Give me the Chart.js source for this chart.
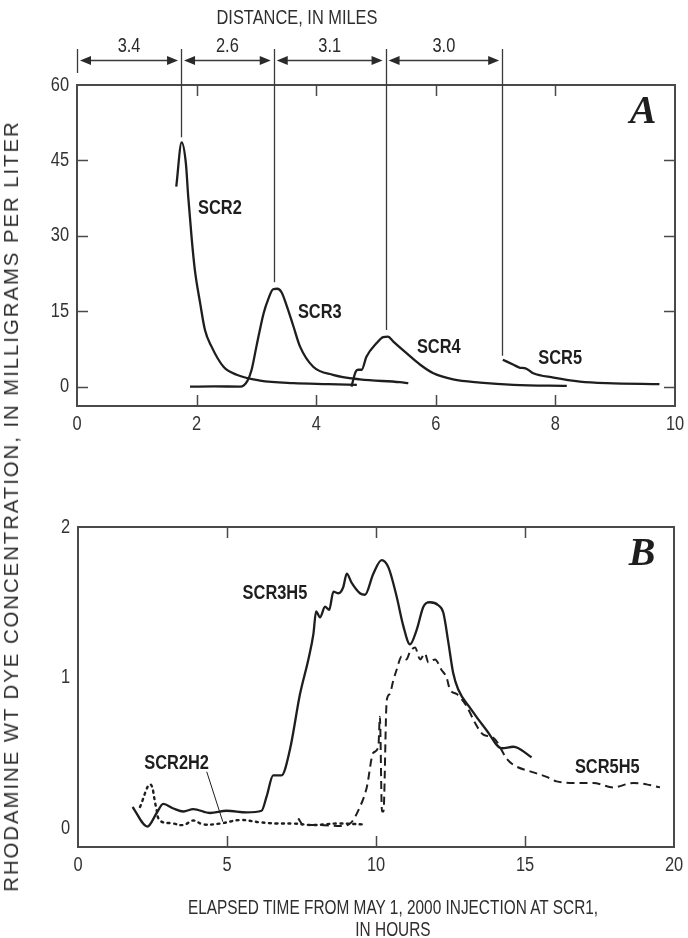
<!DOCTYPE html>
<html>
<head>
<meta charset="utf-8">
<script src="https://cdn.jsdelivr.net/npm/chart.js@4.4.1/dist/chart.umd.min.js"></script>
<style>
  body {
    margin: 0; background: #fff; width: 688px; height: 938px; position: relative; overflow: hidden;
    font-family: "Liberation Sans", Arial, sans-serif; color: #2e2e2e;
  }
  #wrapA { position: absolute; left: 0; top: 0; width: 688px; height: 440px; }
  #wrapB { position: absolute; left: 0; top: 460px; width: 688px; height: 478px; }
  .title { position: absolute; font-size: 20px; white-space: nowrap; }
  #distTitle { left: 297px; top: 6px; transform: translateX(-50%) scaleX(0.82); }
  #xTitle { left: 393px; top: 896px; transform: translateX(-50%) scaleX(0.77); text-align: center; line-height: 22px; }
  #yTitle { left: 11px; top: 506px; font-size: 21px; letter-spacing: 2px; transform: translate(-50%, -50%) rotate(-90deg) scaleX(0.97); }
</style>
</head>
<body>
<div id="wrapA"><canvas id="chartA"></canvas></div>
<div id="wrapB"><canvas id="chartB"></canvas></div>
<div class="title" id="distTitle">DISTANCE, IN MILES</div>
<div class="title" id="xTitle">ELAPSED TIME FROM MAY 1, 2000 INJECTION AT SCR1,<br>IN HOURS</div>
<div class="title" id="yTitle">RHODAMINE WT DYE CONCENTRATION, IN MILLIGRAMS PER LITER</div>

<script>
// axis ticks
const aTicksX = [0, 2, 4, 6, 8, 10];
const aTicksY = [0, 15, 30, 45, 60];
const bTicksX = [0, 5, 10, 15, 20];
const bTicksY = [0, 1, 2];

// panel A: dye at each site, hours vs mg/L
const scr2Hours = [1.66, 1.75, 1.82, 1.86, 1.92, 1.97, 2.06, 2.14, 2.25, 2.45, 2.67, 3.06, 3.62, 4.2, 4.68];
const scr2Conc  = [39.8, 48.6, 44.5, 37.8, 29.2, 23.3, 16.6, 11.3, 8.0, 4.0, 2.4, 1.25, 0.73, 0.55, 0.4];
const scr3Hours = [1.89, 2.3, 2.73, 2.85, 2.92, 3.0, 3.12, 3.2, 3.28, 3.35, 3.42, 3.51, 3.62, 3.73, 3.95, 4.28, 4.73, 5.4, 5.54];
const scr3Conc  = [0.05, 0.1, 0.05, 1.2, 3.4, 8, 14.6, 17.5, 19.4, 19.5, 18.8, 16, 12, 8, 4, 2.4, 1.5, 0.93, 0.73];
const scr4Hours = [4.59, 4.66, 4.7, 4.76, 4.84, 5.01, 5.12, 5.2, 5.29, 5.51, 5.74, 5.96, 6.29, 6.74, 7.3, 8.19];
const scr4Conc  = [0.06, 3.0, 3.4, 3.4, 6, 8.7, 9.9, 10.0, 9, 6.7, 4.4, 2.7, 1.5, 0.86, 0.4, 0.2];
const scr5Hours = [7.12, 7.3, 7.41, 7.5, 7.63, 7.97, 8.41, 8.86, 9.74];
const scr5Conc  = [5.4, 4.4, 3.8, 3.7, 2.7, 1.85, 1.06, 0.73, 0.53];

// travel distance between sites, measured at the peaks
const peakHours = [0, 1.74, 3.29, 5.16, 7.11];
const peakTopConc = [null, 49.6, 20.8, 11.3, 6.2];
const reachMiles = ['3.4', '2.6', '3.1', '3.0'];

// panel B: dye at the sampling points
const scr3h5Hours = [1.83, 2.33, 2.64, 2.86, 3.2, 3.54, 3.87, 4.43, 4.99, 5.66, 6.16, 6.33, 6.55, 6.83, 7.11, 7.45, 7.73, 7.9, 7.99, 8.12, 8.29, 8.43, 8.57, 8.74, 8.9, 9.02, 9.18, 9.46, 9.63, 9.91, 10.19, 10.42, 10.69, 10.92, 11.14, 11.37, 11.59, 11.81, 12.09, 12.26, 12.43, 12.59, 12.76, 13.15, 13.71, 14.22, 14.61, 14.78, 15.22];
const scr3h5Conc  = [0.14, 0.01, 0.10, 0.16, 0.13, 0.11, 0.126, 0.10, 0.115, 0.104, 0.115, 0.21, 0.35, 0.35, 0.52, 0.89, 1.12, 1.29, 1.44, 1.40, 1.47, 1.45, 1.57, 1.56, 1.60, 1.69, 1.63, 1.56, 1.55, 1.69, 1.78, 1.73, 1.54, 1.34, 1.22, 1.32, 1.47, 1.50, 1.48, 1.43, 1.23, 1.03, 0.92, 0.80, 0.65, 0.53, 0.54, 0.53, 0.47];
const scr5h5Hours = [7.39, 7.56, 8.12, 8.79, 9.13, 9.46, 9.69, 9.91, 10.08, 10.13, 10.2, 10.25, 10.36, 10.46, 10.58, 10.69, 10.86, 11.02, 11.14, 11.31, 11.48, 11.64, 11.76, 11.98, 12.2, 12.37, 12.48, 12.71, 13.04, 13.32, 13.6, 13.94, 14.39, 14.61, 15.28, 15.73, 16.06, 16.73, 17.29, 17.96, 18.64, 19.08, 19.53];
const scr5h5Conc  = [0.064, 0.02, 0.02, 0.013, 0.03, 0.14, 0.27, 0.50, 0.54, 0.74, 0.11, 0.11, 0.85, 0.89, 0.98, 1.05, 1.14, 1.12, 1.17, 1.20, 1.12, 1.16, 1.10, 1.12, 1.05, 1.0, 0.92, 0.89, 0.81, 0.70, 0.62, 0.60, 0.46, 0.42, 0.37, 0.34, 0.31, 0.30, 0.30, 0.27, 0.30, 0.29, 0.27];
const scr2h2Hours = [2.08, 2.42, 2.62, 2.75, 3.2, 3.54, 3.87, 4.2, 4.77, 5.44, 6.11, 6.67, 7.22, 7.9, 8.68, 9.57];
const scr2h2Conc  = [0.14, 0.29, 0.14, 0.05, 0.03, 0.02, 0.05, 0.024, 0.03, 0.053, 0.038, 0.03, 0.03, 0.02, 0.03, 0.024];
const leaderHours = [4.32, 4.86];
const leaderConc  = [0.374, 0.042];

const INK = '#1e1e1e';
const SANS = '"Liberation Sans", Arial, sans-serif';
const NARROW = 0.82;

const pts = (xs, ys) => xs.map((v, i) => ({ x: v, y: ys[i] }));

function curve(xs, ys, extra) {
  return Object.assign({
    data: pts(xs, ys),
    showLine: true,
    borderColor: INK,
    borderWidth: 2.3,
    pointRadius: 0,
    cubicInterpolationMode: 'monotone',
    fill: false
  }, extra || {});
}

// condensed text: squeeze the regular face horizontally
function narrowText(ctx, text, x, y, font, align) {
  ctx.save();
  ctx.translate(x, y);
  ctx.scale(NARROW, 1);
  ctx.font = font;
  ctx.textAlign = align;
  ctx.textBaseline = 'middle';
  ctx.fillText(text, 0, 0);
  ctx.restore();
}

// box around the plot, inward tick marks and tick labels
const framePlugin = {
  id: 'frame',
  afterDatasetsDraw(chart, args, opts) {
    const { ctx, chartArea: a, scales: { x, y } } = chart;
    ctx.save();
    ctx.strokeStyle = '#4a4a4a';
    ctx.lineWidth = 2;
    ctx.strokeRect(a.left, a.top, a.right - a.left, a.bottom - a.top);
    ctx.lineWidth = 1.5;
    ctx.beginPath();
    x.ticks.forEach(t => {
      if (t.value <= x.min || t.value >= x.max) return;
      const px = Math.round(x.getPixelForValue(t.value)) + 0.5;
      ctx.moveTo(px, a.bottom); ctx.lineTo(px, a.bottom - 11);
      ctx.moveTo(px, a.top); ctx.lineTo(px, a.top + 11);
    });
    if (opts.yTicks) {
      y.ticks.forEach(t => {
        if (t.value >= y.max) return;
        const py = Math.round(y.getPixelForValue(t.value)) + 0.5;
        ctx.moveTo(a.left, py); ctx.lineTo(a.left + 11, py);
        ctx.moveTo(a.right, py); ctx.lineTo(a.right - 11, py);
      });
    }
    ctx.stroke();
    ctx.fillStyle = '#333';
    const f = '20px ' + SANS;
    x.ticks.forEach(t => narrowText(ctx, String(t.value), x.getPixelForValue(t.value), a.bottom + 18, f, 'center'));
    y.ticks.forEach(t => narrowText(ctx, String(t.value), a.left - 8, y.getPixelForValue(t.value), f, 'right'));
    ctx.restore();
  }
};

// curve names and the panel letter
const labelPlugin = {
  id: 'names',
  afterDatasetsDraw(chart, args, opts) {
    const { ctx, chartArea: a, scales: { x, y } } = chart;
    ctx.save();
    ctx.fillStyle = INK;
    (opts.items || []).forEach(it => {
      narrowText(ctx, it.text, x.getPixelForValue(it.x), y.getPixelForValue(it.y), 'bold 20px ' + SANS, 'center');
    });
    ctx.textAlign = 'center';
    ctx.textBaseline = 'middle';
    ctx.font = 'bold italic 40px "Liberation Serif", "DejaVu Serif", serif';
    ctx.fillText(opts.letter, a.right - 32, a.top + 28);
    ctx.restore();
  }
};

// distance scale above panel A
const distancePlugin = {
  id: 'distance',
  afterDatasetsDraw(chart) {
    const { ctx, scales: { x, y } } = chart;
    const arrowY = 60.5;
    ctx.save();
    ctx.strokeStyle = '#3a3a3a';
    ctx.fillStyle = '#2a2a2a';
    ctx.lineWidth = 1.3;
    peakHours.forEach((h, i) => {
      const px = Math.round(x.getPixelForValue(h)) + 0.5;
      const bottom = peakTopConc[i] == null ? 73 : y.getPixelForValue(peakTopConc[i]);
      ctx.beginPath();
      ctx.moveTo(px, 49);
      ctx.lineTo(px, bottom);
      ctx.stroke();
    });
    reachMiles.forEach((m, i) => {
      const x0 = x.getPixelForValue(peakHours[i]) + 3;
      const x1 = x.getPixelForValue(peakHours[i + 1]) - 3;
      ctx.beginPath();
      ctx.moveTo(x0 + 8, arrowY); ctx.lineTo(x1 - 8, arrowY);
      ctx.stroke();
      ctx.beginPath();
      ctx.moveTo(x0, arrowY); ctx.lineTo(x0 + 11, arrowY - 4.5); ctx.lineTo(x0 + 11, arrowY + 4.5); ctx.closePath();
      ctx.moveTo(x1, arrowY); ctx.lineTo(x1 - 11, arrowY - 4.5); ctx.lineTo(x1 - 11, arrowY + 4.5); ctx.closePath();
      ctx.fill();
      narrowText(ctx, m, (x0 + x1) / 2, 46, '20px ' + SANS, 'center');
    });
    ctx.restore();
  }
};

function axes(xTicks, yTicks, xMin, xMax, yMin, yMax, yWidth, xHeight) {
  return {
    x: {
      type: 'linear', min: xMin, max: xMax,
      grid: { display: false, drawTicks: false }, border: { display: false },
      afterBuildTicks: s => { s.ticks = xTicks.map(v => ({ value: v })); },
      afterFit: s => { s.height = xHeight; },
      ticks: { display: false }
    },
    y: {
      type: 'linear', min: yMin, max: yMax,
      grid: { display: false, drawTicks: false }, border: { display: false },
      afterBuildTicks: s => { s.ticks = yTicks.map(v => ({ value: v })); },
      afterFit: s => { s.width = yWidth; },
      ticks: { display: false }
    }
  };
}

const common = {
  responsive: true,
  maintainAspectRatio: false,
  animation: false,
  events: []
};

new Chart('chartA', {
  type: 'scatter',
  data: {
    datasets: [
      curve(scr2Hours, scr2Conc),
      curve(scr3Hours, scr3Conc),
      curve(scr4Hours, scr4Conc),
      curve(scr5Hours, scr5Conc)
    ]
  },
  options: Object.assign({}, common, {
    layout: { padding: { left: 0, top: 85, right: 13, bottom: 0 } },
    scales: axes(aTicksX, aTicksY, 0, 10, -3.8, 60, 77, 34),
    plugins: {
      legend: { display: false },
      tooltip: { enabled: false },
      frame: { yTicks: true },
      names: {
        letter: 'A',
        items: [
          { text: 'SCR2', x: 2.39, y: 35.4 },
          { text: 'SCR3', x: 4.06, y: 14.7 },
          { text: 'SCR4', x: 6.05, y: 7.75 },
          { text: 'SCR5', x: 8.08, y: 5.6 }
        ]
      }
    }
  }),
  plugins: [framePlugin, labelPlugin, distancePlugin]
});

new Chart('chartB', {
  type: 'scatter',
  data: {
    datasets: [
      curve(scr2h2Hours, scr2h2Conc, { borderDash: [2, 4.5], borderWidth: 2.4, borderCapStyle: 'round', cubicInterpolationMode: 'default', tension: 0.4 }),
      curve(scr5h5Hours, scr5h5Conc, { borderDash: [8, 5], borderWidth: 2 }),
      curve(scr3h5Hours, scr3h5Conc),
      curve(leaderHours, leaderConc, { borderWidth: 1, cubicInterpolationMode: 'default' })
    ]
  },
  options: Object.assign({}, common, {
    layout: { padding: { left: 0, top: 67, right: 14, bottom: 0 } },
    scales: axes(bTicksX, bTicksY, 0, 20, -0.126, 2, 78, 91),
    plugins: {
      legend: { display: false },
      tooltip: { enabled: false },
      frame: { yTicks: false },
      names: {
        letter: 'B',
        items: [
          { text: 'SCR3H5', x: 6.61, y: 1.56 },
          { text: 'SCR2H2', x: 3.31, y: 0.43 },
          { text: 'SCR5H5', x: 17.76, y: 0.40 }
        ]
      }
    }
  }),
  plugins: [framePlugin, labelPlugin]
});
</script>
</body>
</html>
